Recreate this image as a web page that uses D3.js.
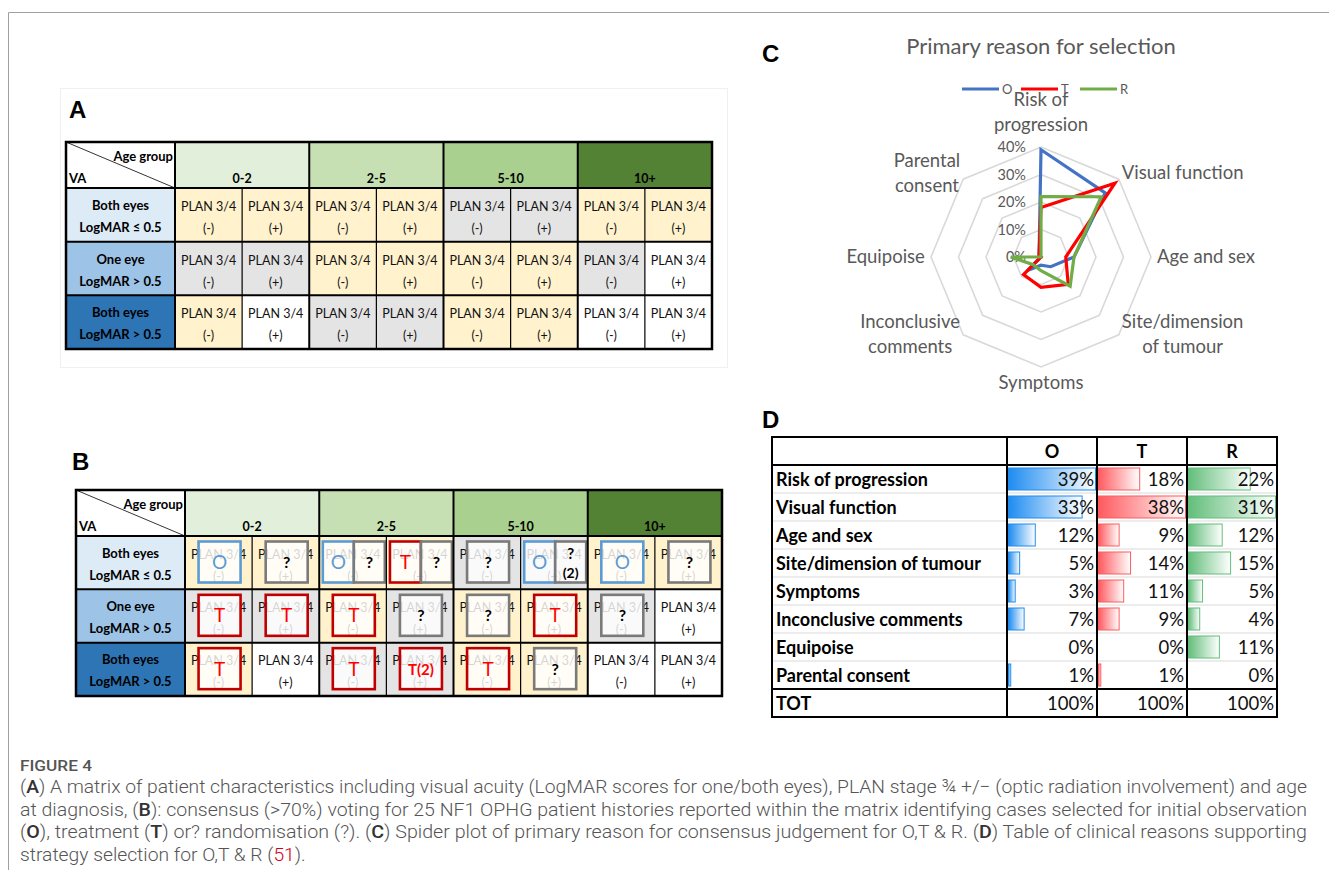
<!DOCTYPE html>
<html>
<head>
<meta charset="utf-8">
<script src="https://cdn.jsdelivr.net/npm/d3@7"></script>
<style>
  body { margin: 0; background: #fff; }
  svg { display: block; }
</style>
</head>
<body>
<svg id="fig" width="1329" height="870"></svg>
<script>
// ---- data ----

const ageGroups = ["0-2", "2-5", "5-10", "10+"];
const planStages = ["(-)", "(+)"];
const vaLines = [["Both eyes", "LogMAR \u2264 0.5"], ["One eye", "LogMAR > 0.5"], ["Both eyes", "LogMAR > 0.5"]];

// cell shading: c = cream, g = grey, w = white
const shadeA = [
  ["c", "c", "c", "c", "g", "g", "c", "c"],
  ["g", "g", "c", "c", "c", "c", "g", "w"],
  ["c", "w", "g", "g", "c", "c", "w", "w"]
];
const shadeB = [
  ["c", "c", "c", "c", "g", "g", "c", "c"],
  ["g", "g", "c", "g", "c", "c", "g", "w"],
  ["c", "w", "g", "g", "c", "c", "w", "w"]
];
// consensus votes for panel B (O = observe, T = treat, ? = randomise)
const votesB = [
  [["O"], ["?"], ["O", "?"], ["T", "?"], ["?"], ["O", "?(2)"], ["O"], ["?"]],
  [["T"], ["T"], ["T"], ["?"], ["?"], ["T"], ["?"], []],
  [["T"], [], ["T"], ["T(2)"], ["T"], ["?"], [], []]
];

const reasons = ["Risk of progression", "Visual function", "Age and sex", "Site/dimension of tumour",
  "Symptoms", "Inconclusive comments", "Equipoise", "Parental consent"];
const radarLabels = [["Risk of", "progression"], ["Visual function"], ["Age and sex"], ["Site/dimension", "of tumour"],
  ["Symptoms"], ["Inconclusive", "comments"], ["Equipoise"], ["Parental", "consent"]];
const seriesNames = ["O", "T", "R"];
const pctO = [39, 33, 12, 5, 3, 7, 0, 1];
const pctT = [18, 38, 9, 14, 11, 9, 0, 1];
const pctR = [22, 31, 12, 15, 5, 4, 11, 0];
const totals = [100, 100, 100];
const radarTicks = [0, 10, 20, 30, 40];

const captionTitle = "FIGURE 4";
const captionLines = [
  "(A) A matrix of patient characteristics including visual acuity (LogMAR scores for one/both eyes), PLAN stage \u00be +/\u2212 (optic radiation involvement) and age",
  "at diagnosis, (B): consensus (>70%) voting for 25 NF1 OPHG patient histories reported within the matrix identifying cases selected for initial observation",
  "(O), treatment (T) or? randomisation (?). (C) Spider plot of primary reason for consensus judgement for O,T & R. (D) Table of clinical reasons supporting",
  "strategy selection for O,T & R (51)."
];

// ---- styles ----

const FONT = "Lato, 'Open Sans', sans-serif";
const shadeColor = { c: "#fff2cc", g: "#e4e4e4", w: "#ffffff" };
const groupColor = ["#e2efda", "#c6e0b4", "#a9d08e", "#548235"];
const vaColor = ["#ddebf7", "#9dc3e6", "#2e75b6"];
const voteStroke = { O: "#5b9bd5", T: "#c00000", "?": "#7a7a7a" };
const voteText = { O: "#5b9bd5", T: "#ff0000", "?": "#000" };
const seriesColor = ["#4472c4", "#ff0000", "#70ad47"];
const barColor = ["#1e8cf0", "#ff5a5f", "#63be7b"];

const svg = d3.select("#fig");

// page frame
svg.append("path")
  .attr("d", "M8.5,870V12.5H1329")
  .attr("fill", "none")
  .attr("stroke", "#a0a0a0");

// panel letters
svg.selectAll("text.panel")
  .data([["A", 69, 118], ["B", 72, 470], ["C", 762, 62], ["D", 762, 428]])
  .enter()
  .append("text")
  .attr("x", d => d[1])
  .attr("y", d => d[2])
  .attr("font-family", "'Liberation Sans', Arial, sans-serif")
  .attr("font-weight", "bold")
  .attr("font-size", 24)
  .text(d => d[0]);

// faint box behind panel A
svg.append("rect")
  .attr("x", 60.5).attr("y", 88.5).attr("width", 667).attr("height", 279)
  .attr("fill", "none").attr("stroke", "#f0f0f0");

// ---- panels A and B: matrix ----

function drawMatrix(x0, y0, tableH, shades, votes) {
  const width = 646, firstCol = 109, hdrH = 46;
  const g = svg.append("g").attr("transform", "translate(" + x0 + "," + y0 + ")");

  const xg = d3.scaleBand().domain(ageGroups).range([firstCol, width]);
  const xc = d3.scaleBand().domain(d3.range(8)).range([firstCol, width]);
  const y = d3.scaleBand().domain(d3.range(3)).range([hdrH, tableH]);

  // header
  g.append("rect").attr("width", firstCol).attr("height", hdrH).attr("fill", "#fff");
  g.selectAll("rect.grp").data(ageGroups).enter().append("rect")
    .attr("x", d => xg(d)).attr("width", xg.bandwidth()).attr("height", hdrH)
    .attr("fill", (d, i) => groupColor[i]);
  g.selectAll("text.grp").data(ageGroups).enter().append("text")
    .attr("x", d => xg(d) + xg.bandwidth() / 2).attr("y", hdrH - 5)
    .attr("text-anchor", "middle")
    .attr("font-family", FONT).attr("font-weight", "bold").attr("font-size", 12.5)
    .text(d => d);
  g.append("line").attr("x1", 0).attr("y1", 0).attr("x2", firstCol).attr("y2", hdrH)
    .attr("stroke", "#000").attr("stroke-width", 0.8);
  g.append("text").attr("x", firstCol - 2).attr("y", 19).attr("text-anchor", "end")
    .attr("font-family", FONT).attr("font-weight", "bold").attr("font-size", 13).text("Age group");
  g.append("text").attr("x", 3).attr("y", hdrH - 5)
    .attr("font-family", FONT).attr("font-weight", "bold").attr("font-size", 13).text("VA");

  // row headers
  g.selectAll("rect.va").data(vaLines).enter().append("rect")
    .attr("y", (d, i) => y(i)).attr("width", firstCol).attr("height", y.bandwidth())
    .attr("fill", (d, i) => vaColor[i]);
  vaLines.forEach((lines, i) => {
    g.selectAll(null).data(lines).enter().append("text")
      .attr("x", firstCol / 2)
      .attr("y", (d, j) => y(i) + y.bandwidth() / 2 - 5 + j * 22)
      .attr("text-anchor", "middle")
      .attr("font-family", FONT).attr("font-weight", "bold").attr("font-size", 13)
      .text(d => d);
  });

  // cells
  shades.forEach((row, i) => {
    g.selectAll(null).data(row).enter().append("rect")
      .attr("x", (d, j) => xc(j)).attr("y", y(i))
      .attr("width", xc.bandwidth()).attr("height", y.bandwidth())
      .attr("fill", d => shadeColor[d]);
    row.forEach((d, j) => {
      const cx = xc(j) + xc.bandwidth() / 2;
      g.append("text").attr("x", cx).attr("y", y(i) + y.bandwidth() / 2 - 4)
        .attr("text-anchor", "middle").attr("font-family", FONT).attr("font-size", 12.5)
        .attr("fill", "#111").text("PLAN 3/4");
      g.append("text").attr("x", cx).attr("y", y(i) + y.bandwidth() / 2 + 18)
        .attr("text-anchor", "middle").attr("font-family", FONT).attr("font-size", 12.5)
        .attr("fill", "#111").text(planStages[j % 2]);
    });
  });

  // vote boxes
  if (votes) {
    votes.forEach((row, i) => {
      row.forEach((cell, j) => {
        if (!cell.length) return;
        const bw = cell.length === 1 ? 42 : 31;
        const left = xc(j) + xc.bandwidth() / 2 - bw * cell.length / 2 + 1;
        const top = y(i) + 5.5, bh = 41;
        cell.forEach((v, k) => {
          const key = v.charAt(0);
          const bx = left + k * bw;
          g.append("rect").attr("x", bx).attr("y", top).attr("width", bw).attr("height", bh)
            .attr("fill", "#fff").attr("fill-opacity", 0.82)
            .attr("stroke", voteStroke[key]).attr("stroke-width", 2.6);
          const t = g.append("text").attr("x", bx + bw / 2).attr("text-anchor", "middle")
            .attr("font-family", FONT).attr("fill", voteText[key]);
          if (v === "?(2)") {
            t.attr("y", top + 17).attr("font-weight", "bold").attr("font-size", 15).text("?");
            g.append("text").attr("x", bx + bw / 2).attr("y", top + 36).attr("text-anchor", "middle")
              .attr("font-family", FONT).attr("font-weight", "bold").attr("font-size", 14).text("(2)");
          } else if (key === "?") {
            t.attr("y", top + bh / 2 + 6).attr("font-weight", "bold").attr("font-size", 16).text(v);
          } else if (v.length > 1) {
            t.attr("y", top + bh / 2 + 6).attr("font-weight", "bold").attr("font-size", 15).text(v);
          } else {
            t.attr("y", top + bh / 2 + 7).attr("font-size", 19).text(v);
          }
        });
      });
    });
  }

  // grid lines
  g.selectAll(null).data(d3.range(8).filter(j => j % 2 === 1)).enter().append("line")
    .attr("x1", j => xc(j)).attr("x2", j => xc(j)).attr("y1", hdrH).attr("y2", tableH)
    .attr("stroke", "#000").attr("stroke-width", 1.2);
  g.selectAll(null).data(ageGroups).enter().append("line")
    .attr("x1", d => xg(d)).attr("x2", d => xg(d)).attr("y1", 0).attr("y2", tableH)
    .attr("stroke", "#000").attr("stroke-width", 2);
  g.selectAll(null).data(d3.range(3)).enter().append("line")
    .attr("x1", 0).attr("x2", width).attr("y1", i => y(i)).attr("y2", i => y(i))
    .attr("stroke", "#000").attr("stroke-width", 2);
  g.append("rect").attr("width", width).attr("height", tableH)
    .attr("fill", "none").attr("stroke", "#000").attr("stroke-width", 2.5);
}

drawMatrix(66, 142, 207, shadeA, null);
drawMatrix(76, 490, 206, shadeB, votesB);

// ---- panel C: radar ----

const cx = 1041, cy = 257, R = 110;
const rScale = d3.scaleLinear().domain([0, 40]).range([0, R]);
const angle = i => i * 2 * Math.PI / reasons.length;
const gc = svg.append("g");

gc.append("text").attr("x", cx).attr("y", 54).attr("text-anchor", "middle")
  .attr("font-family", FONT).attr("font-size", 22).attr("fill", "#595959")
  .text("Primary reason for selection");

// rings
const ring = d3.lineRadial().angle((d, i) => angle(i)).radius(d => rScale(d)).curve(d3.curveLinearClosed);
gc.selectAll("path.ring").data(radarTicks.slice(1)).enter().append("path")
  .attr("transform", "translate(" + cx + "," + cy + ")")
  .attr("d", t => ring(reasons.map(() => t)))
  .attr("fill", "none").attr("stroke", "#d9d9d9").attr("stroke-width", 1.6);

// tick labels
gc.selectAll("text.tick").data(radarTicks).enter().append("text")
  .attr("x", cx - 15).attr("y", t => cy - rScale(t) + 5)
  .attr("text-anchor", "end").attr("font-family", FONT).attr("font-size", 14.5).attr("fill", "#595959")
  .text(t => t + "%");

// series
[pctO, pctT, pctR].forEach((vals, s) => {
  gc.append("path")
    .attr("transform", "translate(" + cx + "," + cy + ")")
    .attr("d", ring(vals))
    .attr("fill", "none").attr("stroke", seriesColor[s]).attr("stroke-width", 3.2)
    .attr("stroke-linejoin", "miter");
});

// category labels
radarLabels.forEach((lines, i) => {
  const a = angle(i);
  const vx = cx + R * Math.sin(a), vy = cy - R * Math.cos(a);
  const t = gc.append("text").attr("font-family", FONT).attr("font-size", 18.5).attr("fill", "#595959");
  lines.forEach((s, k) => t.append("tspan").attr("x", 0).attr("text-anchor", "middle").attr("dy", k ? 25 : 0).text(s));
  const w = t.node().getBBox().width;
  const lh = 25, n = lines.length;
  let bx, byCenter;
  const sx = Math.round(Math.sin(a) * 100) / 100;
  const cy2 = Math.round(Math.cos(a) * 100) / 100;
  if (sx === 0 && cy2 > 0) { bx = vx; byCenter = vy - 13 - (n * lh) / 2 + 3; }
  else if (sx === 0) { bx = vx; byCenter = vy + 16; }
  else if (cy2 === 0) { bx = vx + Math.sign(sx) * (w / 2 + 6); byCenter = vy; }
  else { bx = vx + Math.sign(sx) * (w / 2 + 3); byCenter = vy + (cy2 > 0 ? -6 : 0); }
  const firstBase = byCenter - (n - 1) * lh / 2 + 6;
  t.attr("y", firstBase);
  t.selectAll("tspan").attr("x", bx);
});

// legend
const lg = gc.selectAll("g.leg").data(seriesNames).enter().append("g")
  .attr("transform", (d, i) => "translate(" + (962 + i * 59) + ",89)");
lg.append("line").attr("x1", 0).attr("x2", 37).attr("stroke", (d, i) => seriesColor[i]).attr("stroke-width", 3.2);
lg.append("text").attr("x", 40).attr("y", 5).attr("font-family", FONT).attr("font-size", 13)
  .attr("fill", "#595959").text(d => d);

// ---- panel D: table ----

const dx0 = 772, dRight = 1277, dTop = 437, labelW = 235, rowH = 28;
const gd = svg.append("g");
const xcol = d3.scaleBand().domain(seriesNames).range([dx0 + labelW, dRight]);
const yrow = d3.scaleBand().domain(reasons.concat(["TOT"])).range([dTop + rowH, dTop + rowH * 10]);
const defs = svg.append("defs");
barColor.forEach((c, i) => {
  const lgd = defs.append("linearGradient").attr("id", "bar" + i);
  lgd.append("stop").attr("offset", 0).attr("stop-color", c);
  lgd.append("stop").attr("offset", 1).attr("stop-color", "#fff");
});

gd.append("rect").attr("x", dx0).attr("y", dTop).attr("width", dRight - dx0).attr("height", rowH * 10).attr("fill", "#fff");

// row separators
gd.selectAll(null).data(reasons.slice(1)).enter().append("line")
  .attr("x1", dx0).attr("x2", dRight).attr("y1", d => yrow(d)).attr("y2", d => yrow(d))
  .attr("stroke", "#d9d9d9").attr("stroke-width", 1);

// data bars and values
[pctO, pctT, pctR].forEach((vals, s) => {
  const col = seriesNames[s];
  const bx = d3.scaleLinear().domain([0, d3.max(vals)]).range([0, xcol.bandwidth() - 3]);
  gd.append("g").selectAll("rect")
    .data(vals.map((v, i) => ({ v: v, r: reasons[i] })).filter(d => d.v > 0))
    .enter().append("rect")
    .attr("x", xcol(col) + 1.5).attr("y", d => yrow(d.r) + 3)
    .attr("width", d => Math.max(bx(d.v), 2)).attr("height", rowH - 6)
    .attr("fill", "url(#bar" + s + ")").attr("stroke", barColor[s]).attr("stroke-width", 1);
  gd.selectAll(null).data(vals).enter().append("text")
    .attr("x", xcol(col) + xcol.bandwidth() - 3).attr("y", (v, i) => yrow(reasons[i]) + 21)
    .attr("text-anchor", "end").attr("font-family", FONT).attr("font-size", 18.5).attr("fill", "#111")
    .text(v => v + "%");
  gd.append("text").attr("x", xcol(col) + xcol.bandwidth() - 3).attr("y", yrow("TOT") + 21)
    .attr("text-anchor", "end").attr("font-family", FONT).attr("font-size", 18.5).attr("fill", "#111")
    .text(totals[s] + "%");
  gd.append("text").attr("x", xcol(col) + xcol.bandwidth() / 2).attr("y", dTop + 21)
    .attr("text-anchor", "middle").attr("font-family", FONT).attr("font-weight", "bold").attr("font-size", 18)
    .text(col);
});

// row labels
gd.selectAll("text.lab").data(reasons.concat(["TOT"])).enter().append("text")
  .attr("x", dx0 + 4).attr("y", d => yrow(d) + 21)
  .attr("font-family", FONT).attr("font-weight", "bold").attr("font-size", 18)
  .text(d => d);

// strong borders
gd.selectAll(null).data(seriesNames).enter().append("line")
  .attr("x1", d => xcol(d)).attr("x2", d => xcol(d)).attr("y1", dTop).attr("y2", dTop + rowH * 10)
  .attr("stroke", "#000").attr("stroke-width", 2);
gd.selectAll(null).data([reasons[0], "TOT"]).enter().append("line")
  .attr("x1", dx0).attr("x2", dRight).attr("y1", d => yrow(d)).attr("y2", d => yrow(d))
  .attr("stroke", "#000").attr("stroke-width", 2);
gd.append("rect").attr("x", dx0).attr("y", dTop).attr("width", dRight - dx0).attr("height", rowH * 10)
  .attr("fill", "none").attr("stroke", "#000").attr("stroke-width", 2);

// ---- caption ----

const CAP_FONT = "Roboto, 'Liberation Sans', sans-serif";
svg.append("text").attr("x", 20).attr("y", 771)
  .attr("font-family", CAP_FONT).attr("font-weight", 500).attr("font-size", 15).attr("fill", "#555")
  .attr("textLength", 72).attr("lengthAdjust", "spacingAndGlyphs")
  .text(captionTitle);

let ratio = 1;
captionLines.forEach((line, i) => {
  const t = svg.append("text").attr("x", 20).attr("y", 793 + i * 22.5)
    .attr("font-family", CAP_FONT).attr("font-weight", 300).attr("font-size", 19).attr("fill", "#555");
  line.split(/(\b[A-Z]\b(?=\))|51)/).forEach(part => {
    if (!part) return;
    const sp = t.append("tspan").text(part);
    if (part === "51") sp.attr("fill", "#d0021b");
    else if (/^[A-Z]$/.test(part)) sp.attr("font-weight", 500).attr("fill", "#333");
  });
  const natural = t.node().getComputedTextLength();
  if (i === 0) ratio = 1287 / natural;
  const target = i < captionLines.length - 1 ? 1287 : natural * ratio;
  t.attr("textLength", target).attr("lengthAdjust", "spacingAndGlyphs");
});
</script>
</body>
</html>
